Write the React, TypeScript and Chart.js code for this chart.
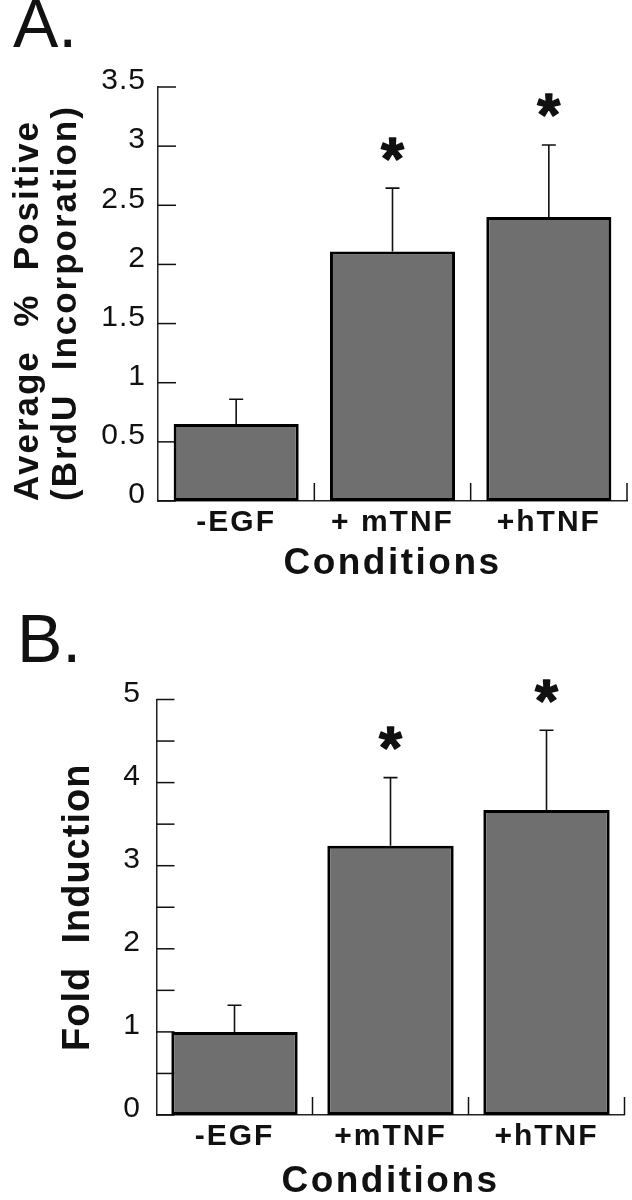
import React, { useEffect, useRef } from "react";
import { Chart, registerables } from "chart.js";

Chart.register(...registerables);

// ---------- data ----------
const categoriesA = ["-EGF", "+ mTNF", "+hTNF"];
const meansA = [0.65, 2.11, 2.4];
const errorsA = [0.21, 0.535, 0.61];
const significantA = [false, true, true];
const yTickLabelsA = ["0", "0.5", "1", "1.5", "2", "2.5", "3", "3.5"];

const categoriesB = ["-EGF", "+mTNF", "+hTNF"];
const meansB = [1.0, 3.24, 3.67];
const errorsB = [0.32, 0.82, 0.96];
const significantB = [false, true, true];
const yTickLabelsB = ["0", "", "1", "", "2", "", "3", "", "4", "", "5"];

const FONT = "'Liberation Sans', Arial, Helvetica, sans-serif";
const TICK_LEN = 18;
const INK = "#111";

function patchSpacing(obj: any, method: string, spacing: string) {
  const key = "__ls_" + method;
  if (!obj || obj[key]) return;
  const orig = obj[method];
  obj[method] = function (...args: any[]) {
    const c = this.ctx;
    const prev = c.letterSpacing;
    c.letterSpacing = spacing;
    try {
      return orig.apply(this, args);
    } finally {
      c.letterSpacing = prev;
    }
  };
  obj[key] = true;
}

const decorPlugin = {
  id: "decor",
  beforeDraw(chart: any, _args: any, opts: any) {
    chart.ctx.letterSpacing = "0px";
    const sp = opts.spacing || {};
    patchSpacing(chart.scales.x, "drawLabels", sp.xTicks || "0px");
    patchSpacing(chart.scales.x, "drawTitle", sp.xTitle || "0px");
    patchSpacing(chart.scales.y, "drawLabels", sp.yTicks || "0px");
    patchSpacing(chart.scales.y, "drawTitle", sp.yTitle || "0px");
  },
  beforeDatasetsDraw(chart: any) {
    const { ctx, chartArea, scales } = chart;
    const x = scales.x;
    const y = scales.y;
    ctx.save();
    ctx.strokeStyle = INK;
    ctx.lineWidth = 1.5;
    // inward y ticks
    y.ticks.forEach((t: any) => {
      const py = y.getPixelForValue(t.value);
      ctx.beginPath();
      ctx.moveTo(chartArea.left, py);
      ctx.lineTo(chartArea.left + TICK_LEN, py);
      ctx.stroke();
    });
    // category separators (pointing up)
    const n = x.ticks.length;
    const cw = (chartArea.right - chartArea.left) / n;
    for (let i = 0; i < n; i++) {
      const px = x.getPixelForValue(i) + cw / 2;
      ctx.beginPath();
      ctx.moveTo(px, chartArea.bottom);
      ctx.lineTo(px, chartArea.bottom - TICK_LEN);
      ctx.stroke();
    }
    ctx.restore();
  },
  afterDatasetsDraw(chart: any, _args: any, opts: any) {
    const { ctx, scales } = chart;
    const y = scales.y;
    const means = chart.data.datasets[0].data;
    const errs = opts.errors || [];
    const sig = opts.significant || [];
    const meta = chart.getDatasetMeta(0);
    ctx.save();
    ctx.letterSpacing = "0px";
    ctx.strokeStyle = INK;
    ctx.fillStyle = INK;
    ctx.lineWidth = 1.6;
    ctx.font = `bold 100px ${FONT}`;
    const m100 = ctx.measureText("*");
    const w100 = m100.actualBoundingBoxLeft + m100.actualBoundingBoxRight || 30;
    const aSize = (100 * 23) / w100;
    meta.data.forEach((bar: any, i: number) => {
      const cx = bar.x;
      const yBar = y.getPixelForValue(means[i]);
      const yTop = y.getPixelForValue(means[i] + errs[i]);
      ctx.beginPath();
      ctx.moveTo(cx, yBar);
      ctx.lineTo(cx, yTop);
      ctx.moveTo(cx - 7, yTop);
      ctx.lineTo(cx + 7, yTop);
      ctx.stroke();
      if (sig[i]) {
        ctx.font = `bold ${aSize}px ${FONT}`;
        const m = ctx.measureText("*");
        const cy = yTop - 39;
        const tx = cx - (m.actualBoundingBoxRight - m.actualBoundingBoxLeft) / 2;
        const ty = cy + (m.actualBoundingBoxAscent - m.actualBoundingBoxDescent) / 2;
        ctx.textAlign = "left";
        ctx.textBaseline = "alphabetic";
        ctx.fillText("*", tx, ty);
        ctx.lineWidth = 1.4;
        ctx.lineJoin = "round";
        ctx.strokeText("*", tx, ty);
        ctx.lineWidth = 1.6;
      }
    });
    ctx.restore();
  },
};

type PanelCfg = {
  letter: string;
  categories: string[];
  means: number[];
  errors: number[];
  significant: boolean[];
  yMax: number;
  yTickLabels: string[];
  yTitle: string | string[];
  yTitleFontSize: number;
  yTitleLineHeight: number;
  yTitlePadTop: number;
  yTitleAlign: "start" | "center";
  yTitleSpacing: string;
  padLeft: number;
  padRight: number;
  yWidth: number;
  xHeight: number;
  titlePadTop: number;
  titlePadBottom: number;
  yTickPadding: number;
  yLabelOffset: number;
  xTitlePadBottom: number;
  barPct: number;
};

function makeConfig(p: PanelCfg): any {
  return {
    type: "bar",
    data: {
      labels: p.categories,
      datasets: [
        {
          data: p.means,
          backgroundColor: "#6f6f6f",
          borderColor: "#000",
          borderWidth: 3,
          borderSkipped: false,
          barPercentage: p.barPct,
          categoryPercentage: 1,
        },
      ],
    },
    options: {
      responsive: false,
      animation: false,
      devicePixelRatio: 1,
      layout: { padding: { left: p.padLeft, right: p.padRight, top: 0, bottom: 0 } },
      plugins: {
        legend: { display: false },
        tooltip: { enabled: false },
        title: {
          display: true,
          text: p.letter,
          align: "start",
          color: INK,
          font: { family: FONT, size: 68, weight: "normal", lineHeight: 0.8 },
          padding: { top: p.titlePadTop, bottom: p.titlePadBottom },
        },
        decor: {
          errors: p.errors,
          significant: p.significant,
          spacing: { xTicks: "2px", xTitle: "2.5px", yTicks: "1px", yTitle: p.yTitleSpacing },
        },
      },
      scales: {
        x: {
          type: "category",
          offset: true,
          grid: { display: false, drawTicks: false },
          border: { display: true, color: "#222", width: 1.5 },
          ticks: {
            color: INK,
            padding: 3.5,
            maxRotation: 0,
            autoSkip: false,
            font: { family: FONT, size: 30, weight: "bold", lineHeight: 1.2 },
          },
          title: {
            display: true,
            text: "Conditions",
            color: INK,
            font: { family: FONT, size: 37, weight: "bold", lineHeight: 1 },
            padding: { top: 0, bottom: p.xTitlePadBottom },
          },
          afterFit(scale: any) {
            scale.height = p.xHeight;
          },
        },
        y: {
          min: 0,
          max: p.yMax,
          grid: { display: false, drawTicks: false },
          border: { display: true, color: "#222", width: 1.5 },
          ticks: {
            stepSize: 0.5,
            autoSkip: false,
            color: INK,
            padding: p.yTickPadding,
            labelOffset: p.yLabelOffset,
            font: { family: FONT, size: 30, weight: "normal", lineHeight: 1.2 },
            callback: (_v: any, i: number) => p.yTickLabels[i],
          },
          title: {
            display: true,
            text: p.yTitle,
            align: p.yTitleAlign,
            color: INK,
            font: {
              family: FONT,
              size: p.yTitleFontSize,
              weight: "bold",
              lineHeight: p.yTitleLineHeight,
            },
            padding: { top: p.yTitlePadTop, bottom: 0 },
          },
          afterFit(scale: any) {
            scale.width = p.yWidth;
          },
        },
      },
    },
    plugins: [decorPlugin],
  };
}

const panelA: PanelCfg = {
  letter: "A.",
  categories: categoriesA,
  means: meansA,
  errors: errorsA,
  significant: significantA,
  yMax: 3.5,
  yTickLabels: yTickLabelsA,
  yTitle: ["Average  %  Positive", "(BrdU  Incorporation)"],
  yTitleFontSize: 35,
  yTitleLineHeight: 38 / 35,
  yTitlePadTop: -4.1,
  yTitleAlign: "start",
  yTitleSpacing: "2px",
  padLeft: 13,
  padRight: 5,
  yWidth: 145,
  xHeight: 99,
  titlePadTop: 1.2,
  titlePadBottom: 31.4,
  yTickPadding: 12,
  yLabelOffset: -6,
  xTitlePadBottom: 17.6,
  barPct: 0.8,
};

const panelB: PanelCfg = {
  letter: "B.",
  categories: categoriesB,
  means: meansB,
  errors: errorsB,
  significant: significantB,
  yMax: 5,
  yTickLabels: yTickLabelsB,
  yTitle: "Fold  Induction",
  yTitleFontSize: 38,
  yTitleLineHeight: 1.2,
  yTitlePadTop: 39.2,
  yTitleAlign: "center",
  yTitleSpacing: "1px",
  padLeft: 17,
  padRight: 7.5,
  yWidth: 139.5,
  xHeight: 85,
  titlePadTop: 16.2,
  titlePadBottom: 28.9,
  yTickPadding: 15.5,
  yLabelOffset: -6,
  xTitlePadBottom: -0.7,
  barPct: 0.81,
};

function Panel({ cfg }: { cfg: PanelCfg }) {
  const ref = useRef<HTMLCanvasElement | null>(null);
  useEffect(() => {
    if (!ref.current) return;
    const chart = new Chart(ref.current, makeConfig(cfg));
    return () => chart.destroy();
  }, [cfg]);
  return (
    <canvas
      ref={ref}
      width={632}
      height={600}
      style={{ display: "block", width: 632, height: 600 }}
    />
  );
}

export default function App() {
  return (
    <div
      style={{
        position: "absolute",
        left: 0,
        top: 0,
        width: 632,
        height: 1200,
        background: "#fff",
        overflow: "hidden",
      }}
    >
      <Panel cfg={panelA} />
      <Panel cfg={panelB} />
    </div>
  );
}
